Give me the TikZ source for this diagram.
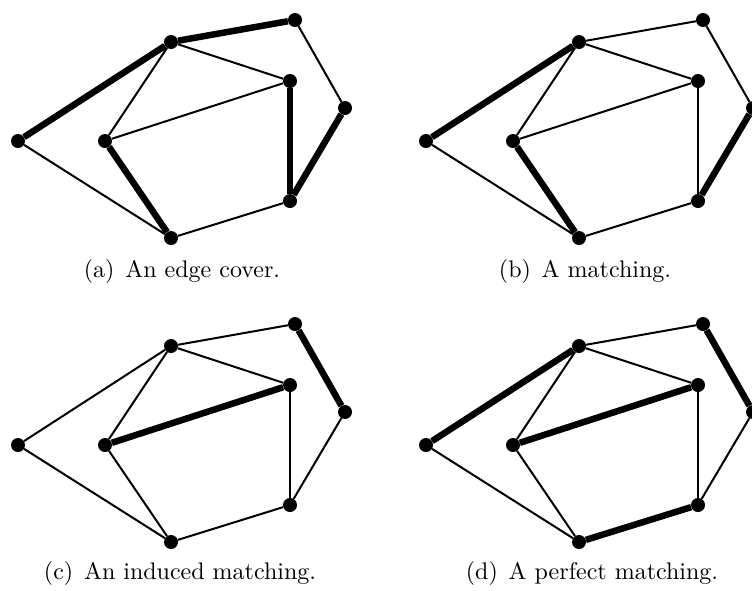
\documentclass[tikz,border=0pt]{standalone}
\usepackage{fontspec}
\newfontfamily\capfont{lmroman10-regular}[Extension=.otf]
\begin{document}
\begin{tikzpicture}[x=1pt,y=-1pt,
  vertex/.style={circle,fill=black,draw=none,inner sep=0pt,minimum size=14pt},
  thinedge/.style={line width=2pt,black},
  thickedge/.style={line width=6.5pt,black},
  caption/.style={font=\capfont\fontsize{24}{29}\selectfont,inner sep=0pt}]
\useasboundingbox (0,0) rectangle (752,590);
% vertex positions (relative)
\foreach \p/\dx/\dy in {a/0/0,b/408/0,c/0/304,d/408/304}{
  \node[vertex] (\p1) at (18+\dx,141+\dy) {};
  \node[vertex] (\p2) at (171+\dx,42+\dy) {};
  \node[vertex] (\p3) at (295+\dx,20+\dy) {};
  \node[vertex] (\p4) at (290+\dx,81+\dy) {};
  \node[vertex] (\p5) at (345+\dx,108+\dy) {};
  \node[vertex] (\p6) at (105+\dx,141+\dy) {};
  \node[vertex] (\p7) at (290+\dx,201+\dy) {};
  \node[vertex] (\p8) at (171+\dx,238+\dy) {};
}
% (a) edge cover
\foreach \u/\v in {3/5,2/4,2/6,6/4,1/8,8/7} \draw[thinedge] (a\u) -- (a\v);
\foreach \u/\v in {1/2,2/3,4/7,5/7,6/8} \draw[thickedge] (a\u) -- (a\v);
% (b) matching
\foreach \u/\v in {2/3,3/5,2/4,2/6,6/4,4/7,1/8,8/7} \draw[thinedge] (b\u) -- (b\v);
\foreach \u/\v in {1/2,6/8,5/7} \draw[thickedge] (b\u) -- (b\v);
% (c) induced matching
\foreach \u/\v in {1/2,2/3,2/4,2/6,4/7,5/7,6/8,1/8,8/7} \draw[thinedge] (c\u) -- (c\v);
\foreach \u/\v in {6/4,3/5} \draw[thickedge] (c\u) -- (c\v);
% (d) perfect matching
\foreach \u/\v in {2/3,2/4,2/6,4/7,5/7,6/8,1/8} \draw[thinedge] (d\u) -- (d\v);
\foreach \u/\v in {1/2,6/4,3/5,8/7} \draw[thickedge] (d\u) -- (d\v);
% captions
\node[caption] (capa) at (182,271) {(a)\hspace{0.45em}An edge cover.};
\node[caption] (capb) at (585,271) {(b)\hspace{0.45em}A matching.};
\node[caption] (capc) at (180,573) {(c)\hspace{0.45em}An induced matching.};
\node[caption] (capd) at (592,573) {(d)\hspace{0.45em}A perfect matching.};
\end{tikzpicture}
\end{document}
